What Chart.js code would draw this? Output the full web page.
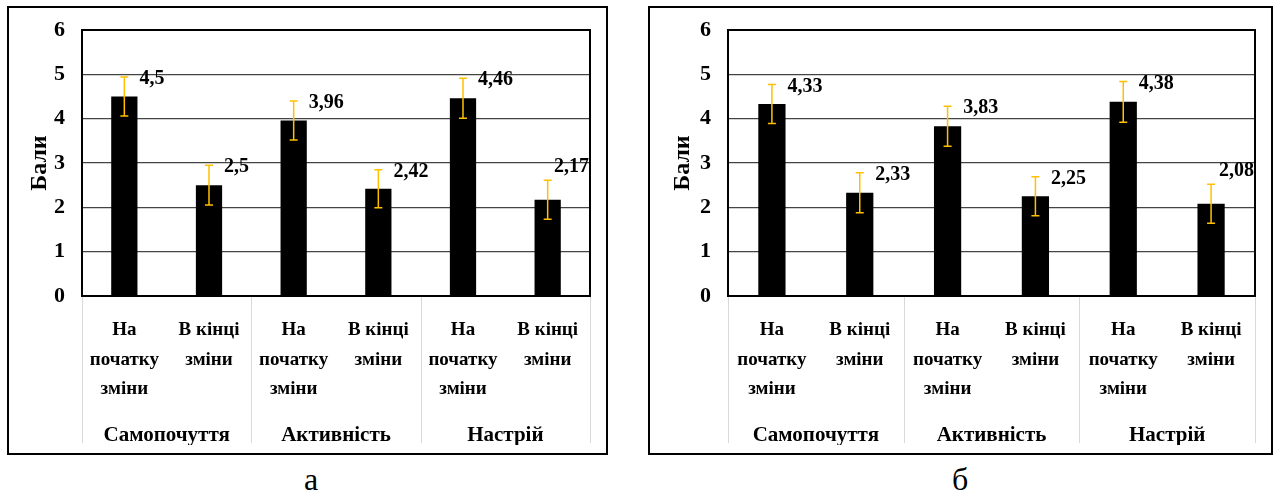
<!DOCTYPE html>
<html>
<head>
<meta charset="utf-8">
<script src="https://cdn.jsdelivr.net/npm/chart.js@4"></script>
<style>
    body { margin: 0; width: 1277px; height: 494px; background: #fff; position: relative; overflow: hidden; }
    .box { position: absolute; top: 6px; height: 449px; border: 2px solid #000; box-sizing: border-box; }
    .box canvas { display: block; }
    .caption { position: absolute; top: 461px; font: 32px 'Liberation Serif', serif; color: #000; }
</style>
</head>
<body>
<div class="box" id="boxA" style="left:7px; width:601px;"><canvas id="chartA"></canvas></div>
<div class="box" id="boxB" style="left:648px; width:625px;"><canvas id="chartB"></canvas></div>
<div class="caption" style="left:304px;">а</div>
<div class="caption" style="left:952px;">б</div>
<script>
const subLabels = [
    ['На', 'початку', 'зміни'], ['В кінці', 'зміни'],
    ['На', 'початку', 'зміни'], ['В кінці', 'зміни'],
    ['На', 'початку', 'зміни'], ['В кінці', 'зміни']
];
const groupLabels = ['Самопочуття', 'Активність', 'Настрій'];
const yTicks = [0, 1, 2, 3, 4, 5, 6];
const yTitle = 'Бали';

const valuesA = [4.5, 2.5, 3.96, 2.42, 4.46, 2.17];
const errorsA = [0.44, 0.45, 0.44, 0.43, 0.45, 0.44];
const valuesB = [4.33, 2.33, 3.83, 2.25, 4.38, 2.08];
const errorsB = [0.44, 0.45, 0.45, 0.44, 0.46, 0.44];

const serif = "'Liberation Serif', 'Times New Roman', serif";
Chart.defaults.font.family = serif;
Chart.defaults.color = '#000';

// frame, group separators, error bars and value labels
const extras = {
    id: 'extras',
    afterDraw(chart) {
        const ctx = chart.ctx;
        const area = chart.chartArea;
        const x = chart.scales.x;
        const xg = chart.scales.xGroup;
        const y = chart.scales.y;
        const half = (x.getPixelForValue(1) - x.getPixelForValue(0)) / 2;

        ctx.save();
        ctx.strokeStyle = '#d9d9d9';
        ctx.lineWidth = 1;
        for (let i = 0; i <= groupLabels.length; i++) {
            const px = Math.round(x.getPixelForValue(i * 2) - half) + 0.5;
            ctx.beginPath();
            ctx.moveTo(px, area.bottom + 1);
            ctx.lineTo(px, xg.bottom - 2);
            ctx.stroke();
        }

        ctx.strokeStyle = '#000';
        ctx.lineWidth = 2;
        ctx.strokeRect(area.left, area.top, area.right - area.left, area.bottom - area.top);

        const errs = chart.options.plugins.extras.errors;
        const meta = chart.getDatasetMeta(0);
        const vals = chart.data.datasets[0].data;
        ctx.strokeStyle = '#FFC000';
        ctx.lineWidth = 1.5;
        meta.data.forEach((bar, i) => {
            const top = y.getPixelForValue(vals[i] + errs[i]);
            const bot = y.getPixelForValue(vals[i] - errs[i]);
            ctx.beginPath();
            ctx.moveTo(bar.x, top); ctx.lineTo(bar.x, bot);
            ctx.moveTo(bar.x - 4, top); ctx.lineTo(bar.x + 4, top);
            ctx.moveTo(bar.x - 4, bot); ctx.lineTo(bar.x + 4, bot);
            ctx.stroke();
        });

        ctx.fillStyle = '#000';
        ctx.font = 'bold 20px ' + serif;
        ctx.textBaseline = 'middle';
        ctx.textAlign = 'left';
        meta.data.forEach((bar, i) => {
            const text = String(vals[i]).replace('.', ',');
            const w = ctx.measureText(text).width;
            const top = y.getPixelForValue(vals[i] + errs[i]);
            let lx = bar.x + bar.width / 2 + 2;
            let ly = top + 2;
            if (lx + w > area.right - 1) {
                lx = area.right - 1 - w;
                ly = top - 13;
            }
            ctx.fillText(text, lx, ly);
        });
        ctx.restore();
    }
};

function makeChart(id, values, errors, yWidth, titlePad) {
    const box = document.getElementById(id).parentNode;
    const canvas = document.getElementById(id);
    canvas.width = box.clientWidth;
    canvas.height = box.clientHeight;
    return new Chart(canvas, {
        type: 'bar',
        data: {
            labels: subLabels,
            datasets: [{
                data: values,
                backgroundColor: '#000',
                borderWidth: 0,
                categoryPercentage: 1,
                barPercentage: 0.31
            }]
        },
        options: {
            responsive: false,
            animation: false,
            layout: { padding: { top: 22, right: 16, left: 0, bottom: 8 } },
            plugins: {
                legend: { display: false },
                tooltip: { enabled: false },
                extras: { errors: errors }
            },
            scales: {
                y: {
                    min: yTicks[0],
                    max: yTicks[yTicks.length - 1],
                    afterBuildTicks: s => { s.ticks = yTicks.map(v => ({ value: v })); },
                    afterFit: s => { s.width = yWidth; s.paddingTop = 0; s.paddingBottom = 0; },
                    grid: { color: '#444', lineWidth: 1.3, drawTicks: false },
                    border: { display: false },
                    ticks: { padding: 17, font: { family: serif, size: 22, weight: 'bold' } },
                    title: {
                        display: true,
                        text: yTitle,
                        font: { family: serif, size: 24, weight: 'bold' },
                        padding: { top: titlePad, bottom: 0 }
                    }
                },
                x: {
                    weight: 0,
                    afterFit: s => { s.height = 117; },
                    grid: { display: false, drawTicks: false },
                    border: { display: false },
                    ticks: {
                        autoSkip: false, maxRotation: 0, padding: 20,
                        font: { family: serif, size: 19, weight: 'bold', lineHeight: 1.53 }
                    }
                },
                xGroup: {
                    type: 'category',
                    position: 'bottom',
                    weight: 1,
                    labels: groupLabels,
                    offset: true,
                    afterFit: s => { s.height = 32; },
                    grid: { display: false, drawTicks: false },
                    border: { display: false },
                    ticks: {
                        autoSkip: false, maxRotation: 0, padding: 9,
                        font: { family: serif, size: 21, weight: 'bold', lineHeight: 1.3 }
                    }
                }
            }
        },
        plugins: [extras]
    });
}

makeChart('chartA', valuesA, errorsA, 73, 16);
makeChart('chartB', valuesB, errorsB, 78, 18);
</script>
</body>
</html>
